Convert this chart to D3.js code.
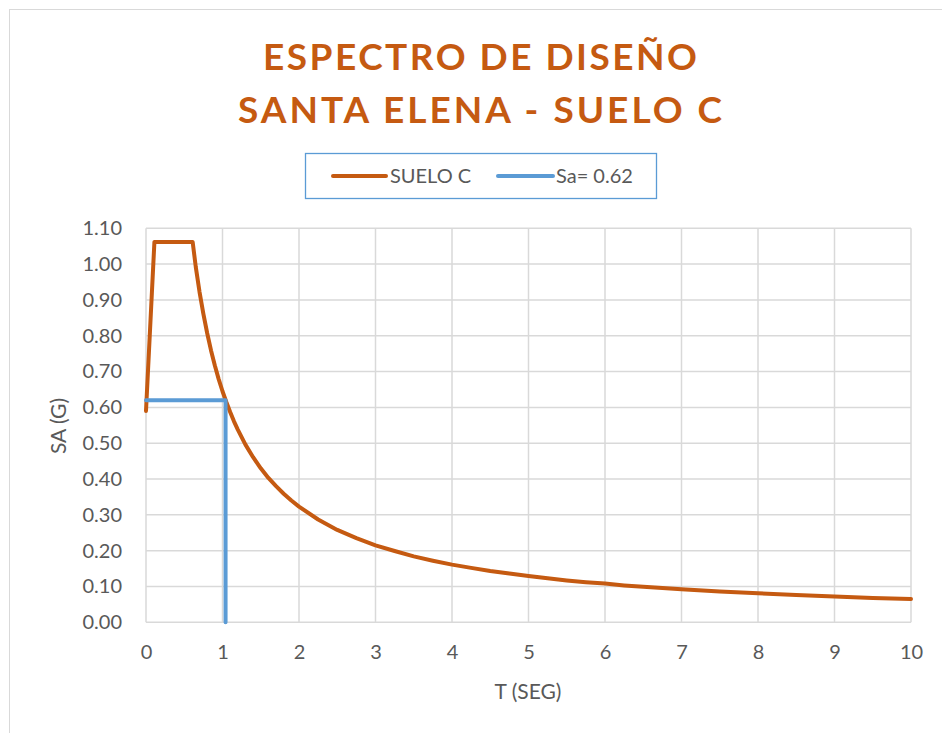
<!DOCTYPE html>
<html>
<head>
<meta charset="utf-8">
<script src="https://cdn.jsdelivr.net/npm/d3@7"></script>
<style>
  html, body { margin: 0; padding: 0; background: #ffffff; }
  svg { display: block; }
</style>
</head>
<body>
<div id="chart"></div>
<script>
// Elastic design spectrum, Santa Elena, soil type C
const titleLines = ["ESPECTRO DE DISEÑO", "SANTA ELENA - SUELO C"];
const seriesNames = ["SUELO C", "Sa= 0.62"];

// Period T (s) and spectral acceleration Sa (g)
const periodT = [0, 0.11, 0.61, 0.65, 0.70, 0.75, 0.80, 0.85, 0.90, 0.95, 1.00,
  1.05, 1.10, 1.15, 1.20, 1.30, 1.40, 1.50, 1.60, 1.70, 1.80, 1.90, 2.00,
  2.25, 2.50, 2.75, 3.00, 3.25, 3.50, 3.75, 4.00, 4.25, 4.50, 4.75, 5.00,
  5.25, 5.50, 5.75, 6.00, 6.25, 6.50, 6.75, 7.00, 7.50, 8.00, 8.50, 9.00, 9.50, 10.00];
const saSueloC = [0.59, 1.062, 1.062, 0.993, 0.922, 0.861, 0.807, 0.759, 0.717, 0.679, 0.645,
  0.615, 0.587, 0.561, 0.538, 0.496, 0.461, 0.430, 0.403, 0.380, 0.359, 0.340, 0.323,
  0.287, 0.258, 0.235, 0.215, 0.199, 0.184, 0.172, 0.161, 0.152, 0.143, 0.136, 0.129,
  0.123, 0.117, 0.112, 0.108, 0.103, 0.099, 0.096, 0.092, 0.086, 0.081, 0.076, 0.072, 0.068, 0.065];

// Design level: Sa = 0.62 reached at T = 1.04 s
const designT = [0, 1.04, 1.04];
const designSa = [0.62, 0.62, 0];

const xTicks = [0, 1, 2, 3, 4, 5, 6, 7, 8, 9, 10];
const yTicks = [0, 0.1, 0.2, 0.3, 0.4, 0.5, 0.6, 0.7, 0.8, 0.9, 1.0, 1.1];

const W = 942, H = 733;
const orange = "#C55A11", blue = "#5B9BD5", grid = "#D9D9D9", textCol = "#595959";
const font = "Lato, 'Open Sans', sans-serif";

const svg = d3.select("#chart").append("svg").attr("width", W).attr("height", H);

// chart frame
svg.append("rect").attr("x", 9.5).attr("y", 9.5).attr("width", 1000).attr("height", 1000)
  .attr("fill", "#fff").attr("stroke", grid).attr("stroke-width", 1);

const plot = { left: 146, right: 911, top: 228.3, bottom: 622.3 };
const x = d3.scaleLinear().domain([0, 10]).range([plot.left, plot.right]);
const y = d3.scaleLinear().domain([0, 1.1]).range([plot.bottom, plot.top]);

// title
const titleSpec = [{ y: 70, w: 434 }, { y: 123, w: 484 }];
titleLines.forEach((t, i) => {
  svg.append("text")
    .attr("x", 480).attr("y", titleSpec[i].y)
    .attr("text-anchor", "middle")
    .attr("font-family", font).attr("font-weight", 700).attr("font-size", 37)
    .attr("fill", orange)
    .attr("textLength", titleSpec[i].w).attr("lengthAdjust", "spacing")
    .text(t);
});

// legend
const leg = svg.append("g");
leg.append("rect").attr("x", 305.5).attr("y", 153.5).attr("width", 351).attr("height", 45)
  .attr("fill", "#fff").attr("stroke", blue).attr("stroke-width", 1.3);
const legItems = [
  { name: seriesNames[0], color: orange, x0: 333, x1: 386, tx: 390 },
  { name: seriesNames[1], color: blue, x0: 498, x1: 553, tx: 556 }
];
legItems.forEach(d => {
  leg.append("line").attr("x1", d.x0).attr("x2", d.x1).attr("y1", 176).attr("y2", 176)
    .attr("stroke", d.color).attr("stroke-width", 4).attr("stroke-linecap", "round");
  leg.append("text").attr("x", d.tx).attr("y", 183)
    .attr("font-family", font).attr("font-size", 20).attr("fill", textCol)
    .text(d.name);
});

// gridlines
const gridG = svg.append("g");
gridG.selectAll("line.h").data(yTicks).join("line").attr("class", "h")
  .attr("x1", plot.left).attr("x2", plot.right)
  .attr("y1", d => y(d)).attr("y2", d => y(d))
  .attr("stroke", grid).attr("stroke-width", 1.5);
gridG.selectAll("line.v").data(xTicks).join("line").attr("class", "v")
  .attr("x1", d => x(d)).attr("x2", d => x(d))
  .attr("y1", plot.top).attr("y2", plot.bottom)
  .attr("stroke", grid).attr("stroke-width", 1.5);

// axes (labels only)
const yAxis = svg.append("g").attr("transform", `translate(${plot.left},0)`)
  .call(d3.axisLeft(y).tickValues(yTicks).tickFormat(d3.format(".2f")).tickSize(0).tickPadding(24));
const xAxis = svg.append("g").attr("transform", `translate(0,${plot.bottom})`)
  .call(d3.axisBottom(x).tickValues(xTicks).tickFormat(d3.format("d")).tickSize(0).tickPadding(23));
[yAxis, xAxis].forEach(a => {
  a.select(".domain").remove();
  a.selectAll("text").attr("font-family", font).attr("font-size", 20).attr("fill", textCol);
});

// axis titles
svg.append("text").attr("x", 528).attr("y", 699)
  .attr("text-anchor", "middle").attr("font-family", font).attr("font-size", 21)
  .attr("fill", textCol).text("T (SEG)");
svg.append("text").attr("transform", "translate(66,426) rotate(-90)")
  .attr("text-anchor", "middle").attr("font-family", font).attr("font-size", 21)
  .attr("fill", textCol).text("SA (G)");

// series
const line = d3.line().x(d => x(d[0])).y(d => y(d[1]));
svg.append("path")
  .datum(periodT.map((t, i) => [t, saSueloC[i]]))
  .attr("d", line).attr("fill", "none").attr("stroke", orange)
  .attr("stroke-width", 4).attr("stroke-linejoin", "round").attr("stroke-linecap", "round");
svg.append("path")
  .datum(designT.map((t, i) => [t, designSa[i]]))
  .attr("d", line).attr("fill", "none").attr("stroke", blue)
  .attr("stroke-width", 4).attr("stroke-linejoin", "round").attr("stroke-linecap", "round");
</script>
</body>
</html>
